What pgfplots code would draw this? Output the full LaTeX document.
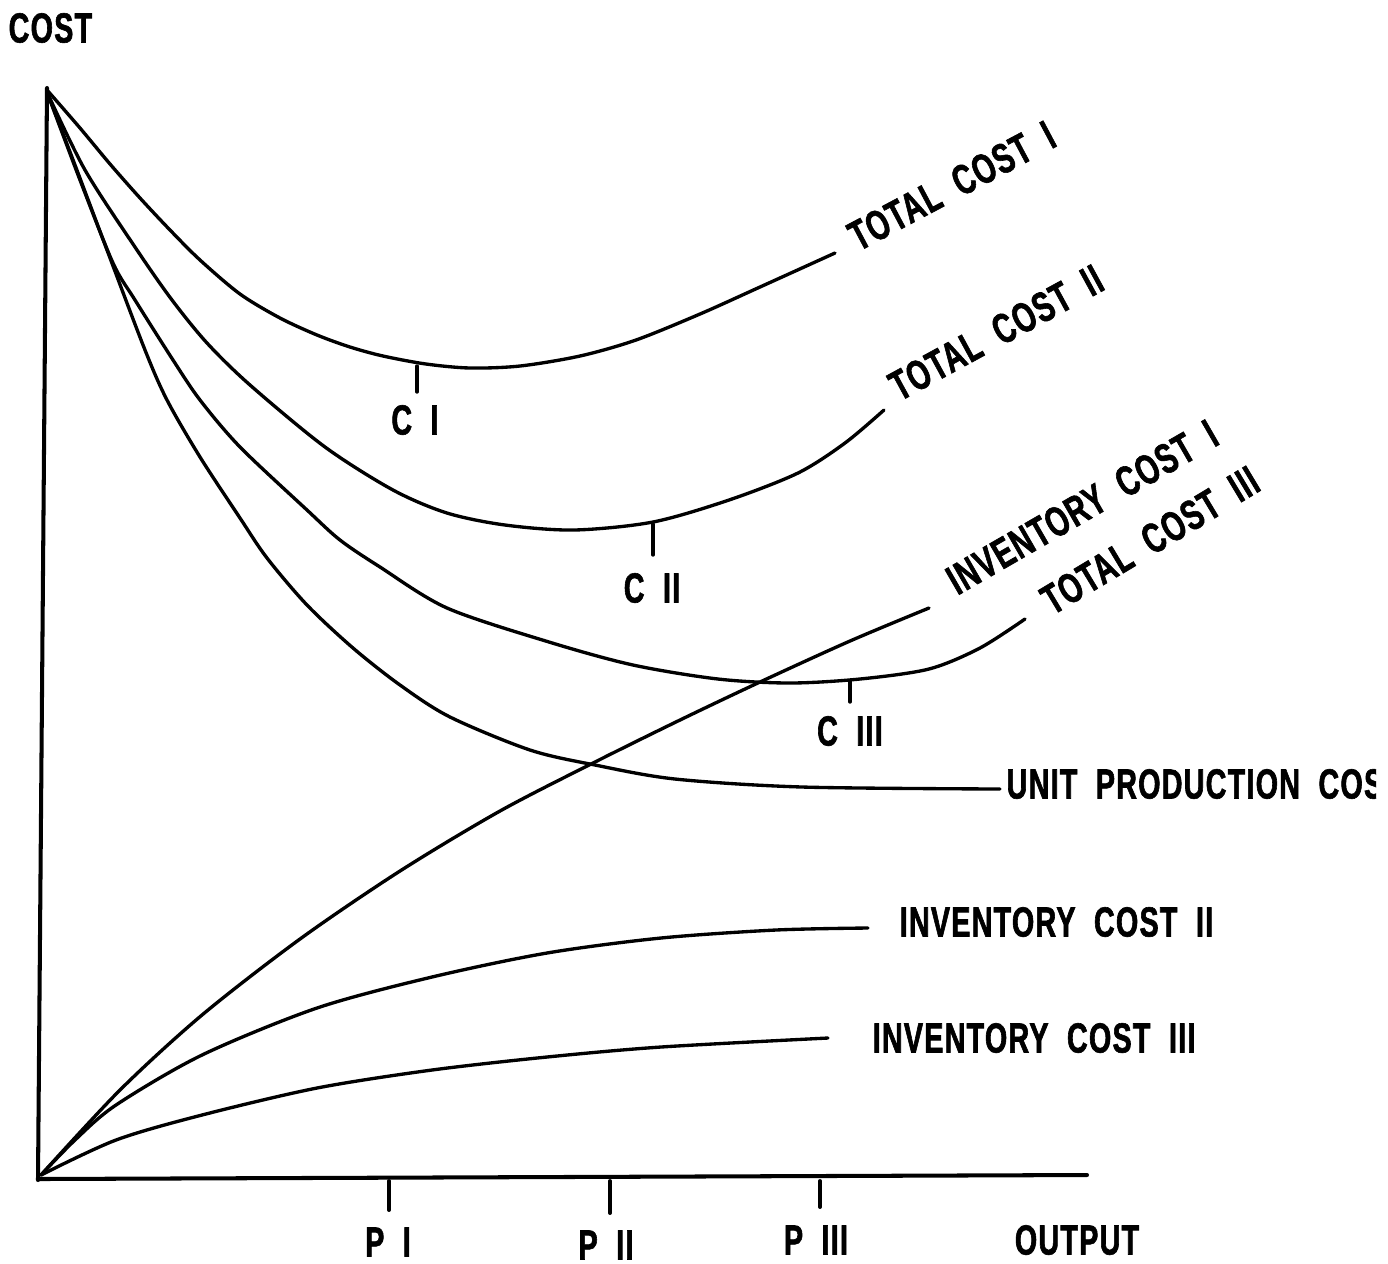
\documentclass[border=0pt]{standalone}
\usepackage{pgfplots}
\pgfplotsset{compat=1.18}
\usepackage{fontspec}
\newfontfamily\lab{Liberation Sans}[FakeStretch=0.68, LetterSpace=3, WordSpace=2, BoldFeatures={FakeBold=1.4}]
\tikzset{lbl/.style={font=\lab\bfseries\fontsize{12}{14}\selectfont, inner sep=0pt}}
\begin{document}
\begin{tikzpicture}
\begin{axis}[
  width=13.88cm, height=12.63cm, scale only axis,
  xmin=0, xmax=1388, ymin=0, ymax=1263, y dir=reverse,
  hide axis, clip=false,
  every axis plot/.append style={black, line width=0.95pt, line join=round, line cap=round, no markers},
]
% axes
\addplot[black, line width=1.15pt] coordinates {(47,88) (38,1180)};
\addplot[black, line width=1.15pt] coordinates {(38,1179) (1087,1175)};
% Total cost I
\addplot[black, smooth] coordinates {(47,90) (80,128) (110,164) (140,198) (170,230) (200,260) (240,294) (280,318) (317,335) (350,347) (383,356) (426,364) (470,368) (520,366) (580,356) (636,340) (700,314) (760,287) (835,253)};
% Total cost II
\addplot[black, smooth] coordinates {(47,92) (85,170) (137,250) (172,300) (207,343) (250,385) (325,447) (393,490) (447,513) (505,525) (574,530) (653,522) (729,500) (798,473) (845,443) (884,410)};
% Total cost III
\addplot[black, smooth] coordinates {(47,92) (80,180) (113,263) (135,300) (173,360) (200,400) (240,447) (307,510) (340,540) (380,567) (447,608) (549,642) (633,665) (718,679) (790,683) (860,679) (929,669) (980,648) (1025,619)};
% Unit production cost
\addplot[black, smooth] coordinates {(47,92) (75,165) (107,250) (145,350) (167,400) (200,457) (240,518) (267,558) (307,605) (353,648) (400,685) (450,717) (530,750) (595,765) (675,779) (802,787) (1000,789)};
% Inventory cost I
\addplot[black, smooth] coordinates {(41,1175) (120,1090) (202,1015) (300,939) (400,871) (500,811) (595,762) (680,720) (760,682) (850,641) (929,608)};
% Inventory cost II
\addplot[black, smooth] coordinates {(41,1175) (75,1140) (116,1105) (202,1055) (317,1008) (432,977) (547,953) (661,938) (776,930) (868,928)};
% Inventory cost III
\addplot[black, smooth] coordinates {(41,1175) (116,1140) (202,1115) (317,1088) (432,1070) (547,1057) (661,1047) (828,1038)};
% C ticks
\addplot[black] coordinates {(417,366) (417,392)};
\addplot[black] coordinates {(653,524) (653,555)};
\addplot[black] coordinates {(850,681) (850,702)};
% P ticks
\addplot[black, line width=1.1pt] coordinates {(389,1181) (389,1210)};
\addplot[black, line width=1.1pt] coordinates {(610,1181) (610,1213)};
\addplot[black, line width=1.1pt] coordinates {(820,1181) (820,1207)};
% labels
\node[lbl, anchor=west] at (axis cs:8,28) {COST};
\node[lbl] at (axis cs:415,420) {C I};
\node[lbl] at (axis cs:652,588) {C II};
\node[lbl] at (axis cs:850,731) {C III};
\node[lbl] at (axis cs:388,1242) {P I};
\node[lbl] at (axis cs:606,1245) {P II};
\node[lbl] at (axis cs:816,1240) {P III};
\node[lbl] at (axis cs:1077,1240) {OUTPUT};
\coordinate (upc) at (axis cs:1006,784);
\node[lbl, anchor=west] at (axis cs:899,922) {INVENTORY COST II};
\node[lbl, anchor=west] at (axis cs:872,1038) {INVENTORY COST III};
\node[lbl, anchor=base west, rotate=28] at (axis cs:858,252) {TOTAL COST I};
\node[lbl, anchor=base west, rotate=28.6] at (axis cs:899,402) {TOTAL COST II};
\node[lbl, anchor=base west, rotate=30] at (axis cs:957,596) {INVENTORY COST I};
\node[lbl, anchor=base west, rotate=31] at (axis cs:1052,616) {TOTAL COST III};
\end{axis}
\begin{scope}
\clip (current axis.south west) rectangle ([xshift=-1.2mm]current axis.north east);
\node[lbl, anchor=west] at (upc) {UNIT PRODUCTION COST};
\end{scope}
\pgfresetboundingbox
\path[use as bounding box] (current axis.south west) rectangle (current axis.north east);
\end{tikzpicture}
\end{document}
